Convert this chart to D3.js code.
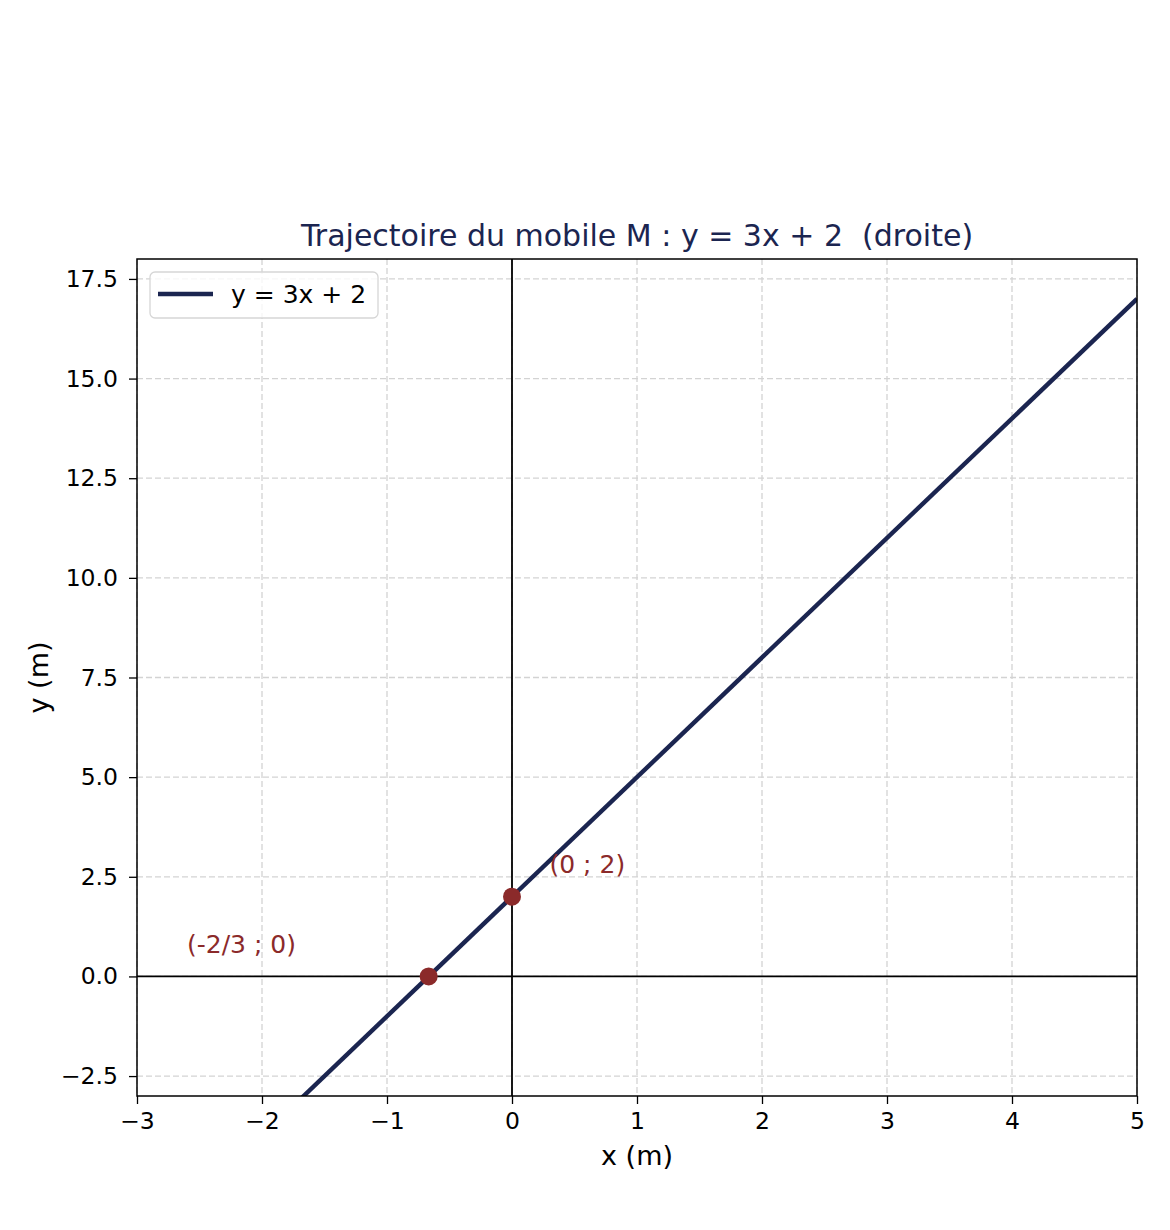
<!DOCTYPE html>
<html>
<head>
<meta charset="utf-8">
<script src="https://cdn.jsdelivr.net/npm/d3@7"></script>
<style>
  body { margin: 0; background: #fff; }
  svg text { font-family: "DejaVu Sans", sans-serif; }
</style>
</head>
<body>
<div id="chart"></div>
<script>
// line y = 3x + 2, drawn across the x range
const lineX = [-3, 5];
const lineY = [-7, 17];
// notable points and their labels
const pointX = [-2 / 3, 0];
const pointY = [0, 2];
const pointLabels = ["(-2/3 ; 0)", "(0 ; 2)"];
const labelX = [-2.6, 0.3];
const labelY = [0.6, 2.6];
const xTicks = [-3, -2, -1, 0, 1, 2, 3, 4, 5];
const yTicks = [-2.5, 0, 2.5, 5, 7.5, 10, 12.5, 15, 17.5];

(function () {
  const W = 1170, H = 1230;
  const margin = { top: 259, right: 33, bottom: 134, left: 137 };
  const width = W - margin.left - margin.right;
  const height = H - margin.top - margin.bottom;
  const navy = "#1b2550";
  const red = "#8b2a2a";
  const minus = (s) => s.replace("-", "\u2212");

  const svg = d3.select("#chart").append("svg")
    .attr("width", W).attr("height", H);
  const g = svg.append("g")
    .attr("transform", `translate(${margin.left},${margin.top})`);

  const x = d3.scaleLinear().domain([-3, 5]).range([0, width]);
  const y = d3.scaleLinear().domain([-3, 18]).range([height, 0]);

  // grid
  g.append("g").selectAll("line").data(xTicks).join("line")
    .attr("x1", (d) => x(d)).attr("x2", (d) => x(d))
    .attr("y1", 0).attr("y2", height)
    .attr("stroke", "#d3d3d3").attr("stroke-width", 1.3)
    .attr("stroke-dasharray", "6,3");
  g.append("g").selectAll("line").data(yTicks).join("line")
    .attr("x1", 0).attr("x2", width)
    .attr("y1", (d) => y(d)).attr("y2", (d) => y(d))
    .attr("stroke", "#d3d3d3").attr("stroke-width", 1.3)
    .attr("stroke-dasharray", "6,3");

  // zero axes
  g.append("line").attr("x1", 0).attr("x2", width)
    .attr("y1", y(0)).attr("y2", y(0))
    .attr("stroke", "#000").attr("stroke-width", 1.8);
  g.append("line").attr("x1", x(0)).attr("x2", x(0))
    .attr("y1", 0).attr("y2", height)
    .attr("stroke", "#000").attr("stroke-width", 1.8);

  // clip for the line
  svg.append("defs").append("clipPath").attr("id", "plot-clip")
    .append("rect").attr("width", width).attr("height", height);

  const lineData = lineX.map((d, i) => ({ x: d, y: lineY[i] }));
  g.append("path").datum(lineData)
    .attr("clip-path", "url(#plot-clip)")
    .attr("fill", "none").attr("stroke", navy).attr("stroke-width", 4.4)
    .attr("d", d3.line().x((d) => x(d.x)).y((d) => y(d.y)));

  // points
  g.selectAll(".pt").data(pointX).join("circle")
    .attr("class", "pt")
    .attr("cx", (d) => x(d)).attr("cy", (d, i) => y(pointY[i]))
    .attr("r", 9).attr("fill", red);

  g.selectAll(".pt-label").data(pointLabels).join("text")
    .attr("class", "pt-label")
    .attr("x", (d, i) => x(labelX[i])).attr("y", (d, i) => y(labelY[i]))
    .attr("fill", red).attr("font-size", 25)
    .text((d) => d);

  // axes
  const xAxis = g.append("g").attr("transform", `translate(0,${height})`)
    .call(d3.axisBottom(x).tickValues(xTicks).tickSizeOuter(0)
      .tickSize(8).tickPadding(8).tickFormat((d) => minus(String(d))));
  const yAxis = g.append("g")
    .call(d3.axisLeft(y).tickValues(yTicks).tickSizeOuter(0)
      .tickSize(8).tickPadding(11).tickFormat((d) => minus(d3.format(".1f")(d))));
  [xAxis, yAxis].forEach((a) => {
    a.select(".domain").remove();
    a.selectAll(".tick line").attr("stroke", "#000").attr("stroke-width", 1.3);
    a.selectAll(".tick text").attr("font-size", 23.5).attr("fill", "#000")
      .attr("font-family", "DejaVu Sans");
  });

  // frame
  g.append("rect").attr("width", width).attr("height", height)
    .attr("fill", "none").attr("stroke", "#000").attr("stroke-width", 1.5);

  // legend
  const leg = g.append("g").attr("transform", "translate(13,13)");
  leg.append("rect").attr("width", 228).attr("height", 46).attr("rx", 5)
    .attr("fill", "#fff").attr("fill-opacity", 0.8)
    .attr("stroke", "#d6d6d6").attr("stroke-width", 1.3);
  leg.append("line").attr("x1", 8).attr("x2", 63).attr("y1", 22).attr("y2", 22)
    .attr("stroke", navy).attr("stroke-width", 4.4);
  leg.append("text").attr("x", 81).attr("y", 31).attr("font-size", 25)
    .attr("fill", "#000").text("y = 3x + 2");

  // labels
  svg.append("text").attr("x", margin.left + width / 2).attr("y", 246)
    .attr("text-anchor", "middle").attr("font-size", 30).attr("fill", navy)
    .text("Trajectoire du mobile M : y = 3x + 2  (droite)")
    .attr("xml:space", "preserve").style("white-space", "pre");
  svg.append("text").attr("x", margin.left + width / 2).attr("y", 1165)
    .attr("text-anchor", "middle").attr("font-size", 27).attr("fill", "#000")
    .text("x (m)");
  svg.append("text")
    .attr("transform", `translate(48,${margin.top + height / 2}) rotate(-90)`)
    .attr("text-anchor", "middle").attr("font-size", 27).attr("fill", "#000")
    .text("y (m)");
})();
</script>
</body>
</html>
